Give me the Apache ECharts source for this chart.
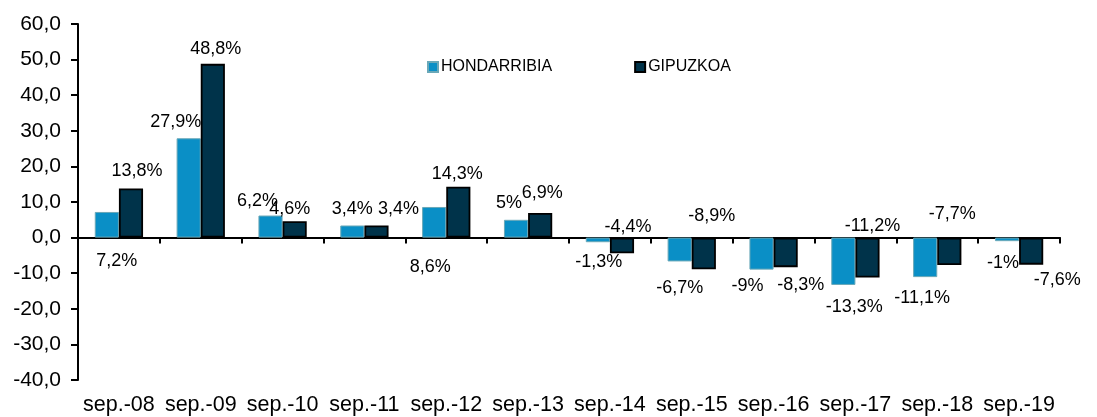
<!DOCTYPE html>
<html>
<head>
<meta charset="utf-8">
<script src="https://cdn.jsdelivr.net/npm/echarts@6/dist/echarts.min.js"></script>
<style>
html,body{margin:0;padding:0;background:#fff;}
#chart{width:1097px;height:417px;}
</style>
</head>
<body>
<div id="chart"></div>
<script>
const categories = ['sep.-08','sep.-09','sep.-10','sep.-11','sep.-12','sep.-13','sep.-14','sep.-15','sep.-16','sep.-17','sep.-18','sep.-19'];
const hondarribia = [7.2, 27.9, 6.2, 3.4, 8.6, 5, -1.3, -6.7, -9, -13.3, -11.1, -1];
const gipuzkoa = [13.8, 48.8, 4.6, 3.4, 14.3, 6.9, -4.4, -8.9, -8.3, -11.2, -7.7, -7.6];
const seriesNames = ['HONDARRIBIA', 'GIPUZKOA'];

// label placement (pos, dx, dy), as in the original manually placed Excel labels
const hondLabelPlace = [
  ['bottom',10,14],['top',-13,-7],['top',-13,-5],['top',0,-7],['bottom',-4,20],['top',-7,-8],
  ['bottom',1,11],['bottom',0,18],['bottom',-14,7],['bottom',11,13],['bottom',-3,12],['bottom',-4,13]
];
const gipuLabelPlace = [
  ['top',6,-8],['top',3,-6],['top',-5,-3],['top',22,-7],['top',-1,-4],['top',2,-11],
  ['top',6,-2],['top',8,-13],['bottom',15,9],['top',5,-3],['top',3,-15],['bottom',26,6]
];

const fmtPct = v => String(v).replace('.', ',') + '%';
const fmtAxis = v => v.toFixed(1).replace('.', ',');
const FONT = 'Liberation Sans, Arial, sans-serif';

function buildData(values, place) {
  return values.map((v, i) => ({
    value: v,
    label: { position: place[i][0], offset: [place[i][1], place[i][2]] }
  }));
}

const chart = echarts.init(document.getElementById('chart'));
chart.setOption({
  animation: false,
  textStyle: { fontFamily: FONT },
  legend: {
    data: seriesNames,
    left: 422,
    top: 54,
    itemWidth: 10,
    itemHeight: 10,
    itemGap: 82,
    icon: 'rect',
    textStyle: { fontFamily: FONT, fontSize: 16, color: '#000', padding: [0,0,0,-2] }
  },
  grid: { left: 78, right: 37, top: 24, bottom: 37, containLabel: false },
  xAxis: [
    {
      type: 'category',
      data: categories,
      position: 'bottom',
      axisLine: { onZero: true, lineStyle: { color: '#000', width: 2 } },
      axisTick: { show: true, length: 6, lineStyle: { color: '#000', width: 2 } },
      axisLabel: { show: false }
    },
    {
      type: 'category',
      data: categories,
      position: 'bottom',
      axisLine: { show: false, onZero: false },
      axisTick: { show: false },
      axisLabel: { show: true, margin: 14, fontSize: 21.5, color: '#000', fontFamily: FONT, interval: 0 }
    }
  ],
  yAxis: {
    type: 'value',
    min: -40,
    max: 60,
    interval: 10,
    axisLine: { show: true, lineStyle: { color: '#000', width: 2 } },
    axisTick: { show: true, length: 7, lineStyle: { color: '#000', width: 2 } },
    splitLine: { show: false },
    axisLabel: { formatter: fmtAxis, fontSize: 21, color: '#000', margin: 17, fontFamily: FONT }
  },
  series: [
    {
      name: seriesNames[0],
      type: 'bar',
      xAxisIndex: 0,
      barGap: '0%',
      barCategoryGap: '41%',
      itemStyle: { color: '#0a8fc6', borderColor: '#6aa8b8', borderWidth: 1 },
      label: { show: true, distance: 0, formatter: p => fmtPct(p.value), fontSize: 18, color: '#000', fontFamily: FONT },
      data: buildData(hondarribia, hondLabelPlace)
    },
    {
      name: seriesNames[1],
      type: 'bar',
      xAxisIndex: 0,
      barGap: '0%',
      barCategoryGap: '41%',
      itemStyle: { color: '#00334a', borderColor: '#000', borderWidth: 1.8 },
      label: { show: true, distance: 0, formatter: p => fmtPct(p.value), fontSize: 18, color: '#000', fontFamily: FONT },
      data: buildData(gipuzkoa, gipuLabelPlace)
    }
  ]
});
</script>
</body>
</html>
